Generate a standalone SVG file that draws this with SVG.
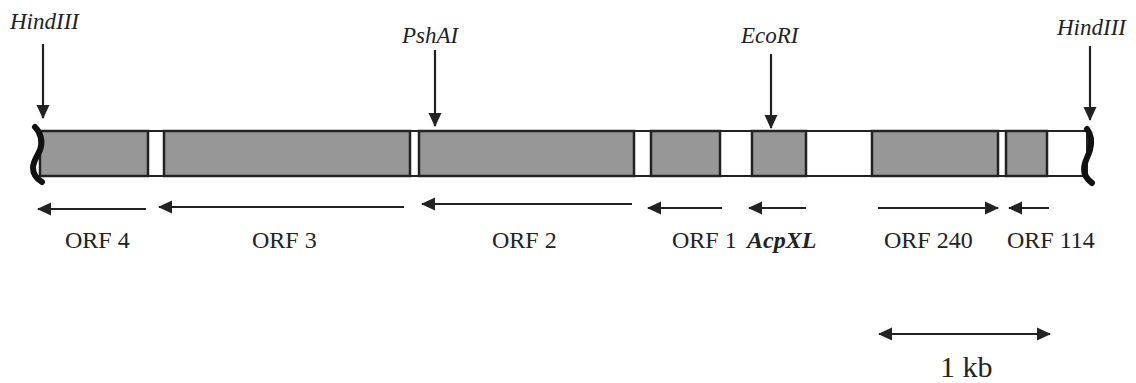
<svg xmlns="http://www.w3.org/2000/svg" width="1136" height="383" viewBox="0 0 1136 383">
<style>
.site{font-family:"Liberation Serif",serif;font-style:italic;font-size:23px;fill:#222}
.orf{font-family:"Liberation Serif",serif;font-size:24px;fill:#222}
.big{font-size:30px}
.ln{stroke:#222;stroke-width:2.2;fill:none}
.gene{fill:#979797;stroke:#222;stroke-width:2.5}
.wave{stroke:#111;stroke-width:6;fill:none;stroke-linecap:round}
</style>
<defs>
<marker id="ah" viewBox="0 0 14 14" refX="13" refY="7" markerWidth="14" markerHeight="14" markerUnits="userSpaceOnUse" orient="auto-start-reverse">
<path d="M0,0.5 L14,7 L0,13.5 Z" fill="#222"/>
</marker>
</defs>
<rect x="0" y="0" width="1136" height="383" fill="#fff"/>
<g id="insert">
<rect x="40" y="131" width="1047" height="45" fill="#fff" stroke="#222" stroke-width="2"/>
<rect class="gene" x="40" y="131" width="108" height="45"/>
<rect class="gene" x="164" y="131" width="246" height="45"/>
<rect class="gene" x="419" y="131" width="215" height="45"/>
<rect class="gene" x="651" y="131" width="69" height="45"/>
<rect class="gene" x="752" y="131" width="54" height="45"/>
<rect class="gene" x="872" y="131" width="126" height="45"/>
<rect class="gene" x="1006" y="131" width="41" height="45"/>
<path class="wave" d="M35,127 C41,133 43,142 40,150 C37,157 33,161 33,168 C33,174 37,179 42,182"/>
<path class="wave" d="M1087,129 C1091,134 1092,142 1090,150 C1088,157 1084,162 1084,169 C1084,175 1088,180 1092,183"/>
</g>
<g id="sites">
<g id="hind-left"><text class="site" x="10" y="29">HindIII</text></g>
<g id="psha"><text class="site" x="402" y="43">PshAI</text></g>
<g id="ecori"><text class="site" x="741" y="43">EcoRI</text></g>
<g id="hind-right"><text class="site" x="1057" y="35">HindIII</text></g>
</g>
<g id="connectors">
<line class="ln" x1="43" y1="44" x2="43" y2="118" marker-end="url(#ah)"/>
<line class="ln" x1="435" y1="50" x2="435" y2="126" marker-end="url(#ah)"/>
<line class="ln" x1="771" y1="54" x2="771" y2="128" marker-end="url(#ah)"/>
<line class="ln" x1="1090" y1="46" x2="1090" y2="120" marker-end="url(#ah)"/>
<line class="ln" x1="146" y1="209" x2="38" y2="209" marker-end="url(#ah)"/>
<line class="ln" x1="404" y1="207" x2="159" y2="207" marker-end="url(#ah)"/>
<line class="ln" x1="632" y1="204" x2="422" y2="204" marker-end="url(#ah)"/>
<line class="ln" x1="722" y1="208" x2="648" y2="208" marker-end="url(#ah)"/>
<line class="ln" x1="806" y1="208" x2="749" y2="208" marker-end="url(#ah)"/>
<line class="ln" x1="878" y1="208" x2="998" y2="208" marker-end="url(#ah)"/>
<line class="ln" x1="1049" y1="208" x2="1009" y2="208" marker-end="url(#ah)"/>
<line class="ln" x1="879" y1="334" x2="1050" y2="334" marker-start="url(#ah)" marker-end="url(#ah)"/>
</g>
<g id="labels">
<g id="orf4"><text class="orf" x="65" y="248">ORF 4</text></g>
<g id="orf3"><text class="orf" x="252" y="248">ORF 3</text></g>
<g id="orf2"><text class="orf" x="492" y="248">ORF 2</text></g>
<g id="orf1"><text class="orf" x="672" y="248">ORF 1</text></g>
<g id="acpxl"><text class="orf" x="747" y="248" style="font-weight:bold;font-style:italic">AcpXL</text></g>
<g id="orf240"><text class="orf" x="884" y="248">ORF 240</text></g>
<g id="orf114"><text class="orf" x="1007" y="248">ORF 114</text></g>
<g id="scale"><text class="orf big" x="940" y="377">1 kb</text></g>
</g>
</svg>
